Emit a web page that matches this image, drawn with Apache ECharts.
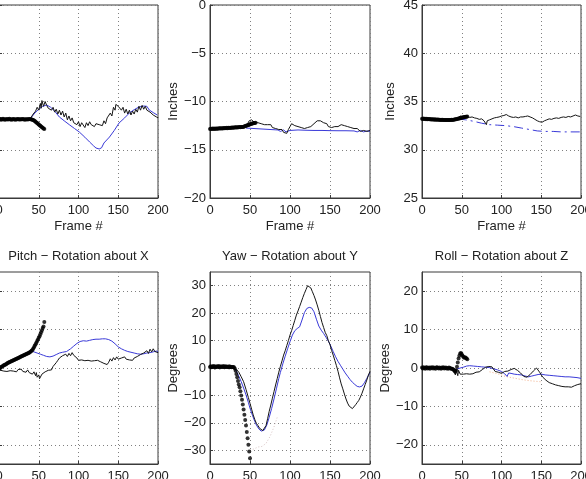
<!DOCTYPE html>
<html>
<head>
<meta charset="utf-8">
<script src="https://cdn.jsdelivr.net/npm/echarts@6/dist/echarts.min.js"></script>
<style>
html, body { margin: 0; padding: 0; background: #fff; }
#main { width: 586px; height: 479px; }
</style>
</head>
<body>
<div id="main"></div>
<script>
// frame axis + tick values
const frameTicks = [0, 50, 100, 150, 200];
const ticksP1 = [-10, -5, 0, 5, 10];
const ticksP2 = [-20, -15, -10, -5, 0];
const ticksP3 = [25, 30, 35, 40, 45];
const ticksP4 = [-20, -10, 0, 10, 20];
const ticksP5 = [-30, -20, -10, 0, 10, 20, 30];
const ticksP6 = [-20, -10, 0, 10, 20];
const titles = ['Pitch \u2212 Rotation about X', 'Yaw \u2212 Rotation about Y', 'Roll \u2212 Rotation about Z'];

// thick dotted trace, one value per frame starting at frame 0
const p1Thick = [-1.80,-1.86,-1.82,-1.88,-1.84,-1.79,-1.85,-1.90,-1.83,-1.86,
  -1.81,-1.87,-1.84,-1.80,-1.86,-1.83,-1.89,-1.85,-1.82,-1.86,
  -1.84,-1.88,-1.83,-1.85,-1.81,-1.86,-1.84,-1.87,-1.83,-1.85,
  -1.82,-1.86,-1.84,-1.88,-1.85,-1.83,-1.86,-1.84,-1.82,-1.85,
  -1.84,-1.86,-1.88,-1.92,-1.97,-2.03,-2.10,-2.17,-2.24,-2.31,
  -2.38,-2.45,-2.52,-2.59,-2.66,-2.72,-2.79,-2.85];
const p2Thick = [-12.85,-12.82,-12.86,-12.80,-12.84,-12.81,-12.85,-12.79,-12.83,-12.80,
  -12.82,-12.78,-12.81,-12.77,-12.80,-12.76,-12.79,-12.75,-12.78,-12.74,
  -12.77,-12.73,-12.76,-12.72,-12.75,-12.71,-12.74,-12.70,-12.73,-12.69,
  -12.72,-12.68,-12.70,-12.67,-12.69,-12.66,-12.68,-12.65,-12.67,-12.64,
  -12.65,-12.63,-12.61,-12.58,-12.55,-12.52,-12.49,-12.46,-12.43,-12.40,
  -12.37,-12.34,-12.31,-12.29,-12.26,-12.24,-12.22,-12.20];
const p3Thick = [33.22,33.19,33.23,33.18,33.21,33.17,33.20,33.16,33.19,33.15,
  33.18,33.14,33.17,33.13,33.16,33.12,33.15,33.12,33.14,33.11,
  33.13,33.10,33.12,33.09,33.11,33.08,33.10,33.08,33.09,33.07,
  33.08,33.07,33.08,33.07,33.08,33.09,33.08,33.10,33.09,33.11,
  33.12,33.14,33.15,33.17,33.19,33.21,33.23,33.25,33.27,33.30,
  33.32,33.34,33.36,33.38,33.40,33.41,33.43,33.45];
const p4Thick = [-0.3,-0.1,0.1,0.3,0.4,0.5,0.7,0.8,0.9,1.0,
  1.2,1.3,1.4,1.5,1.6,1.7,1.8,1.9,2.0,2.1,
  2.2,2.3,2.4,2.5,2.6,2.7,2.8,2.9,3.0,3.1,
  3.2,3.3,3.4,3.5,3.6,3.7,3.8,3.9,4.0,4.15,
  4.3,4.5,4.7,5.0,5.4,5.8,6.2,6.6,7.0,7.4,
  7.9,8.3,8.8,9.3,9.8,10.4,10.8,12.0];
const p5Thick = [0.4,0.6,0.3,0.5,0.7,0.4,0.6,0.3,0.5,0.6,
  0.4,0.7,0.5,0.3,0.6,0.4,0.5,0.7,0.3,0.5,
  0.6,0.4,0.5,0.3,0.6,0.4,0.5,0.3,0.4,0.4,
  0.3,-0.2,-1.0,-2.2,-3.4,-4.7,-6.0,-7.0,-8.5,-10.0,
  -11.6,-13.3,-15.1,-17.0,-19.0,-21.0,-23.3,-25.6,-28.0,-30.4,
  -32.9,-35.4,-38.0];
const p6Thick = [0.1,-0.1,0.2,0.0,-0.2,0.1,0.2,-0.1,0.0,0.1,
  -0.2,0.1,0.0,0.2,-0.1,0.1,0.0,-0.2,0.1,0.2,
  0.0,-0.1,0.1,0.0,-0.2,0.1,0.0,0.2,-0.1,0.0,
  0.1,-0.1,0.0,-0.2,0.1,0.0,-0.1,-0.2,-0.2,-0.3,
  -0.5,-0.8,-1.0,-0.6,0.3,1.4,2.5,3.2,3.8,3.9,
  3.6,3.2,2.9,2.7,2.8,2.7,2.5,2.3];

// thin black trace [frame, value]
const p1Thin = [[40,-1.7],[43,-1.3],[46,-1.0],[48,-0.6],[50,-0.9],[52,-0.2],[53,-0.7],[54,0.1],[56,-0.5],[58,0.0],[60,-0.4],
  [62,-0.7],[64,-0.5],[66,-0.9],[68,-0.6],[70,-1.1],[72,-0.8],[74,-1.3],[76,-0.9],[78,-1.4],[80,-1.0],
  [82,-1.6],[84,-1.2],[86,-1.9],[88,-1.5],[90,-2.0],[92,-1.7],[94,-2.2],[96,-2.0],[98,-2.4],[100,-2.1],
  [102,-2.6],[104,-2.2],[106,-2.4],[108,-2.7],[110,-2.2],[112,-2.5],[114,-2.1],[116,-2.4],[118,-2.2],[120,-2.6],
  [122,-2.3],[124,-2.5],[126,-2.4],[128,-2.2],[130,-2.5],[132,-2.0],[134,-2.3],[136,-1.7],[138,-1.9],[140,-1.2],
  [142,-1.5],[144,-0.6],[146,-0.9],[147,-0.3],[148,-0.1],[150,-0.5],[152,-0.3],[154,-0.9],[156,-0.6],[158,-1.2],[160,-0.8],
  [162,-1.3],[164,-0.9],[166,-1.4],[168,-1.0],[170,-1.3],[172,-0.8],[174,-1.1],[176,-0.5],[178,-0.9],[180,-0.4],
  [182,-0.8],[184,-0.5],[186,-0.9],[188,-0.7],[190,-1.1],[192,-1.0],[194,-1.4],[196,-1.3],[198,-1.6],[200,-1.7]];
const p2Thin = [[45,-12.7],[47,-12.3],[49,-12.0],[50,-11.8],[52,-11.9],[54,-12.1],[56,-12.2],[58,-12.0],[60,-12.2],[62,-12.1],
  [64,-12.3],[66,-12.2],[68,-12.4],[70,-12.2],[72,-12.4],[74,-12.5],[76,-12.4],[78,-12.7],[80,-12.6],[82,-12.8],
  [84,-12.7],[86,-12.9],[88,-13.0],[90,-12.9],[92,-13.2],[94,-13.0],[96,-13.3],[98,-12.9],[100,-12.6],[102,-12.3],
  [104,-12.4],[106,-12.5],[108,-12.4],[110,-12.6],[112,-12.5],[114,-12.7],[116,-12.6],[118,-12.8],[120,-12.6],[122,-12.7],
  [124,-12.5],[126,-12.6],[128,-12.4],[130,-12.3],[132,-12.1],[134,-12.0],[136,-11.9],[138,-12.0],[140,-12.1],[142,-12.2],
  [144,-12.4],[146,-12.3],[148,-12.6],[150,-12.4],[152,-12.7],[154,-12.5],[156,-12.6],[158,-12.4],[160,-12.6],[162,-12.5],
  [164,-12.4],[166,-12.6],[168,-12.5],[170,-12.7],[172,-12.6],[174,-12.8],[176,-12.7],[178,-12.9],[180,-12.8],[182,-13.0],
  [184,-12.8],[186,-12.9],[188,-13.1],[190,-12.9],[192,-13.0],[194,-12.8],[196,-13.1],[198,-12.9],[200,-13.0]];
const p3Thin = [[45,33.3],[48,33.5],[51,33.45],[54,33.5],[57,33.4],[60,33.35],[63,33.4],[66,33.3],[69,33.25],[72,33.15],
  [75,33.2],[78,33.0],[80,32.9],[81,32.6],[82,33.0],[85,33.1],[88,33.2],[91,33.3],[94,33.35],[97,33.4],
  [100,33.5],[103,33.55],[106,33.65],[109,33.5],[112,33.4],[115,33.35],[118,33.4],[121,33.3],[124,33.4],[127,33.4],
  [130,33.45],[133,33.5],[136,33.4],[139,33.3],[142,33.15],[145,33.0],[148,32.9],[151,32.85],[154,33.0],[157,33.1],
  [160,33.2],[163,33.15],[166,33.25],[169,33.3],[172,33.25],[175,33.35],[178,33.4],[181,33.35],[184,33.45],[187,33.4],
  [190,33.5],[193,33.6],[196,33.5],[199,33.45]];
const p4Thin = [[0,0.0],[2,-0.6],[4,-0.2],[6,-0.8],[8,-0.4],[10,-0.9],[12,-0.5],[14,-0.7],[16,-0.3],[18,-0.8],
  [20,-0.5],[22,-1.0],[24,-0.4],[26,-0.7],[28,-0.3],[30,-0.9],[32,-0.6],[34,-1.1],[36,-0.5],[38,-1.2],
  [40,-0.8],[42,-1.6],[44,-1.0],[46,-2.0],[47,-1.2],[48,-2.4],[50,-1.8],[51,-2.8],[52,-2.3],[54,-1.6],
  [56,-1.9],[58,-1.0],[60,-1.3],[62,-0.6],[64,-0.2],[66,-0.5],[68,0.4],[70,0.9],[72,1.4],[74,2.0],
  [76,2.6],[78,2.2],[80,3.2],[82,2.7],[84,3.6],[86,3.0],[88,3.8],[90,3.2],[92,4.0],[94,3.3],
  [96,3.8],[98,2.6],[100,2.0],[102,2.4],[104,2.1],[106,2.3],[108,1.9],[110,2.2],[112,2.0],[114,2.3],
  [116,1.8],[118,2.2],[120,1.9],[122,2.4],[124,2.0],[126,2.1],[128,1.6],[130,2.0],[132,1.2],[134,1.7],
  [136,0.9],[138,1.5],[140,2.4],[142,1.8],[144,2.7],[146,2.1],[148,2.9],[150,2.3],[152,2.0],[154,2.6],
  [156,2.2],[158,2.9],[160,2.3],[162,2.7],[164,2.1],[166,2.5],[168,2.0],[170,2.6],[172,2.3],[174,3.0],
  [176,2.7],[178,3.5],[180,3.0],[182,3.9],[184,3.4],[186,4.5],[188,3.8],[190,4.9],[192,4.2],[194,5.0],
  [196,4.3],[198,4.6],[200,4.0]];
const p5Thin = [[0,-0.3],[3,0.2],[6,-0.4],[9,0.1],[12,-0.3],[15,0.3],[18,-0.2],[21,0.2],[24,-0.3],[27,0.1],
  [30,-0.2],[33,-0.6],[36,-1.5],[39,-3.2],[42,-5.0],[45,-7.8],[48,-10.8],[50,-12.9],[52,-15.0],[54,-17.1],
  [56,-18.8],[58,-20.2],[60,-21.0],[62,-22.0],[64,-22.4],[66,-22.8],[68,-23.0],[70,-21.0],[72,-18.5],[74,-15.8],
  [76,-13.5],[78,-11.0],[80,-8.6],[82,-6.2],[84,-3.9],[86,-1.5],[88,0.6],[90,2.6],[92,4.7],[94,6.3],
  [96,8.2],[98,10.0],[100,12.0],[102,13.6],[104,15.5],[106,17.4],[108,19.3],[110,20.8],[112,22.4],[114,24.0],
  [116,25.7],[118,27.2],[120,28.6],[122,30.0],[123,30.6],[124,29.9],[126,29.2],[128,27.8],[130,26.4],[132,24.8],
  [134,23.0],[136,21.0],[138,18.8],[140,16.6],[142,14.8],[144,13.0],[146,11.8],[148,9.9],[150,8.5],[152,6.4],
  [154,4.7],[156,2.8],[158,0.9],[160,-1.2],[162,-3.6],[164,-5.8],[166,-7.6],[168,-9.5],[170,-11.3],[172,-12.8],
  [174,-13.9],[176,-14.6],[178,-14.8],[180,-14.2],[182,-13.4],[184,-12.6],[186,-11.8],[188,-10.6],[190,-9.2],[192,-7.6],
  [194,-6.0],[196,-4.4],[198,-2.6],[200,-1.2]];
const p6Thin = [[40,-0.8],[42,-1.8],[43,-0.4],[45,-2.0],[46,-0.6],[48,-1.6],[50,-1.1],[52,-1.6],[54,-1.3],[56,-1.5],
  [58,-1.2],[60,-1.6],[62,-1.4],[64,-1.5],[66,-1.2],[68,-1.1],[70,-0.9],[72,-1.0],[74,-0.6],[76,-0.4],
  [78,-0.1],[80,0.2],[82,-0.2],[84,0.4],[86,0.0],[88,0.3],[90,-0.2],[92,-0.9],[94,-0.6],[96,-1.1],
  [98,-0.9],[100,-1.4],[102,-1.0],[104,-0.9],[106,-1.3],[108,-0.8],[110,-0.7],[112,-0.4],[114,-0.2],[116,-0.1],
  [118,-0.4],[120,-0.6],[122,-0.9],[124,-1.3],[126,-1.8],[128,-2.2],[130,-2.0],[132,-2.4],[134,-2.1],[136,-1.7],
  [138,-1.3],[140,-0.8],[142,-0.3],[144,0.0],[146,-0.5],[148,-1.1],[150,-1.8],[152,-2.4],[154,-2.8],[156,-3.2],
  [158,-3.5],[160,-3.8],[162,-3.6],[164,-4.1],[166,-3.9],[168,-4.4],[170,-4.2],[172,-4.6],[174,-4.3],[176,-4.8],
  [178,-4.5],[180,-4.9],[182,-4.6],[184,-4.9],[186,-4.7],[188,-5.0],[190,-4.8],[192,-4.6],[194,-4.4],[196,-4.3],
  [198,-4.0],[200,-4.1]];

// blue trace [frame, value]
const p1Blue = [[40,-1.71],[45,-1.2],[50,-0.8],[55,-0.5],[60,-0.36],[65,-0.6],[70,-1.0],[76,-1.61],[82,-2.0],[89,-2.44],
  [95,-2.8],[101,-3.16],[108,-3.7],[114,-4.2],[119,-4.6],[122,-4.82],[126,-4.92],[129,-4.8],[132,-4.3],[139,-3.68],
  [145,-3.0],[151,-2.23],[158,-1.7],[164,-1.19],[170,-0.85],[176,-0.57],[182,-0.47],[186,-0.5],[189,-0.88],[194,-1.15],[199,-1.4]];
const p2Blue = [[45,-12.75],[55,-12.8],[65,-12.85],[75,-12.9],[85,-12.95],[88,-13.1],[92,-12.95],[95,-13.15],[100,-13.0],[110,-12.95],
  [120,-12.98],[130,-13.0],[140,-13.0],[150,-13.02],[160,-13.03],[170,-13.03],[180,-13.05],[184,-13.15],[188,-13.0],[192,-13.15],
  [196,-13.05],[200,-13.1]];
const p3Blue = [[45,33.2],[55,33.1],[65,32.95],[75,32.75],[85,32.6],[95,32.55],[105,32.5],[115,32.4],[125,32.25],[135,32.1],
  [145,31.95],[155,31.9],[165,31.9],[175,31.85],[185,31.85],[195,31.85],[200,31.85]];
const p4Blue = [[40,4.4],[44,4.2],[48,3.9],[52,3.6],[56,3.3],[60,3.0],[64,2.9],[68,3.1],[72,3.5],[76,3.9],
  [80,4.1],[85,4.3],[90,5.0],[94,5.7],[98,6.4],[102,6.9],[106,7.1],[110,7.0],[114,7.2],[118,7.4],
  [122,7.5],[126,7.5],[130,7.6],[134,7.6],[138,7.4],[142,7.0],[146,6.3],[150,5.5],[154,5.0],[158,4.6],
  [162,4.3],[166,4.1],[170,3.9],[174,3.7],[178,3.6],[182,3.7],[186,3.9],[190,4.0],[194,4.2],[198,4.4],[200,4.3]];
const p5Blue = [[30,0.0],[33,-1.2],[36,-3.0],[39,-5.0],[42,-7.3],[45,-9.8],[48,-12.6],[50,-14.7],[53,-17.2],[56,-19.5],
  [58,-20.8],[61,-22.2],[64,-23.0],[66,-23.2],[68,-22.6],[71,-20.8],[74,-18.0],[77,-14.8],[80,-11.3],[83,-7.6],
  [86,-3.8],[88,-1.6],[91,1.5],[94,4.3],[97,7.0],[100,9.6],[103,12.0],[106,13.6],[109,14.4],[112,15.0],
  [115,17.5],[118,20.2],[121,21.7],[124,22.1],[127,21.9],[130,20.5],[133,17.8],[136,15.3],[139,13.8],[142,12.6],
  [145,11.2],[148,9.8],[151,8.0],[154,6.0],[157,4.1],[160,2.4],[163,1.0],[166,-0.4],[169,-1.8],[172,-3.0],
  [175,-4.2],[178,-5.2],[181,-6.0],[184,-6.7],[187,-6.9],[190,-6.6],[193,-5.4],[196,-3.8],[199,-2.2],[200,-1.8]];
const p6Blue = [[40,-0.5],[44,-0.3],[48,0.0],[52,0.2],[56,0.5],[60,0.6],[65,0.5],[70,0.4],[75,0.3],[80,0.2],
  [85,0.1],[90,-0.2],[95,-0.5],[100,-0.9],[104,-1.5],[107,-2.2],[109,-1.3],[112,-1.4],[116,-1.6],[120,-1.7],
  [125,-1.8],[130,-2.1],[134,-2.3],[138,-2.1],[142,-1.9],[146,-1.7],[150,-1.6],[155,-1.8],[160,-1.9],[165,-2.0],
  [170,-2.1],[175,-2.2],[180,-2.3],[185,-2.3],[190,-2.4],[195,-2.5],[200,-2.7]];

// faint dotted traces
const p5Faint = [[50,-30.0],[55,-29.5],[60,-28.8],[65,-28.6],[70,-27.5],[75,-25.0],[80,-21.5],[84,-18.0]];
const p6Faint = [[85,-1.0],[95,-1.5],[105,-2.2],[115,-2.6],[125,-3.0],[135,-3.3],[145,-3.5],[150,-3.6]];

const FONT = "'Liberation Sans', Arial, Helvetica, sans-serif";
const INK = '#222';
const EDGE = '#3a3a3a';

const panels = [
  { box: {left: -1, top: 5, width: 159, height: 193}, y: [-10, 10], ticks: ticksP1, thick: p1Thick, thin: p1Thin, blue: p1Blue, xName: 'Frame #', yName: '', yLabels: false },
  { box: {left: 210, top: 5, width: 160, height: 193}, y: [-20, 0], ticks: ticksP2, thick: p2Thick, thin: p2Thin, blue: p2Blue, xName: 'Frame #', yName: 'Inches', gap: 30 },
  { box: {left: 422, top: 5, width: 159, height: 193}, y: [25, 45], ticks: ticksP3, thick: p3Thick, thin: p3Thin, blue: p3Blue, xName: 'Frame #', yName: 'Inches', gap: 25, dashBlue: true },
  { box: {left: -1, top: 272, width: 159, height: 192}, y: [-25, 25], ticks: ticksP4, thick: p4Thick, thin: p4Thin, blue: p4Blue, yName: '', yLabels: false },
  { box: {left: 210, top: 272, width: 160, height: 192}, y: [-35, 35], ticks: ticksP5, thick: p5Thick, thin: p5Thin, blue: p5Blue, yName: 'Degrees', gap: 30, faint: p5Faint, faintColor: '#d8c4c4' },
  { box: {left: 422, top: 272, width: 159, height: 192}, y: [-25, 25], ticks: ticksP6, thick: p6Thick, thin: p6Thin, blue: p6Blue, yName: 'Degrees', gap: 30, faint: p6Faint, faintColor: '#f2b08a' }
];

const minus = v => String(v).replace('-', '\u2212');

const grid = [], xAxis = [], yAxis = [], series = [], graphic = [];

panels.forEach((p, i) => {
  grid.push(Object.assign({
    show: true, borderColor: EDGE, borderWidth: 1, backgroundColor: '#fff',
    containLabel: false, outerBoundsMode: 'none'
  }, p.box));
  xAxis.push({
    type: 'value', gridIndex: i, min: 0, max: 200, interval: 50,
    name: p.xName || '', nameLocation: 'middle', nameGap: 22,
    nameTextStyle: { fontFamily: FONT, fontSize: 13, color: INK },
    axisLine: { onZero: false, lineStyle: { color: EDGE } },
    axisTick: { inside: true, length: 3, lineStyle: { color: EDGE } },
    axisLabel: { margin: 6, fontFamily: FONT, fontSize: 13, color: INK },
    splitLine: { show: true, lineStyle: { color: '#808080', type: [1, 3], width: 1 } }
  });
  yAxis.push({
    type: 'value', gridIndex: i, min: p.y[0], max: p.y[1],
    name: p.yName, nameLocation: 'middle', nameGap: p.gap || 28,
    nameTextStyle: { fontFamily: FONT, fontSize: 13, color: INK },
    axisLine: { onZero: false, lineStyle: { color: EDGE } },
    axisTick: { inside: true, length: 3, customValues: p.ticks, lineStyle: { color: EDGE } },
    axisLabel: { show: p.yLabels !== false, margin: 4, customValues: p.ticks, formatter: minus, fontFamily: FONT, fontSize: 13, color: INK },
    splitLine: { show: true, lineStyle: { color: '#808080', type: [1, 3], width: 1 } }
  });
  if (p.faint) {
    series.push({
      type: 'line', xAxisIndex: i, yAxisIndex: i, data: p.faint, showSymbol: false, silent: true,
      lineStyle: { color: p.faintColor, width: 1, type: [1, 2] }, z: 1
    });
  }
  series.push({
    type: 'line', xAxisIndex: i, yAxisIndex: i, data: p.blue, showSymbol: false, silent: true,
    lineStyle: { color: '#3a3ad8', width: 1, type: p.dashBlue ? [9, 4, 2, 4] : 'solid' }, z: 2
  });
  series.push({
    type: 'line', xAxisIndex: i, yAxisIndex: i, data: p.thin, showSymbol: false, silent: true,
    lineStyle: { color: '#151515', width: 1 }, z: 3
  });
  series.push({
    type: 'scatter', xAxisIndex: i, yAxisIndex: i, silent: true,
    data: p.thick.map((v, f) => [f, v]), symbol: 'circle', symbolSize: 4,
    itemStyle: { color: '#000' }, z: 4
  });
  if (i >= 3) {
    graphic.push({
      type: 'text', x: p.box.left + p.box.width / 2, y: 256, silent: true,
      style: { text: titles[i - 3], align: 'center', verticalAlign: 'middle', font: '13px ' + FONT, fill: INK }
    });
  }
});

const chart = echarts.init(document.getElementById('main'), null, { renderer: 'canvas' });
chart.setOption({ animation: false, backgroundColor: '#fff', grid, xAxis, yAxis, series, graphic });
</script>
</body>
</html>
